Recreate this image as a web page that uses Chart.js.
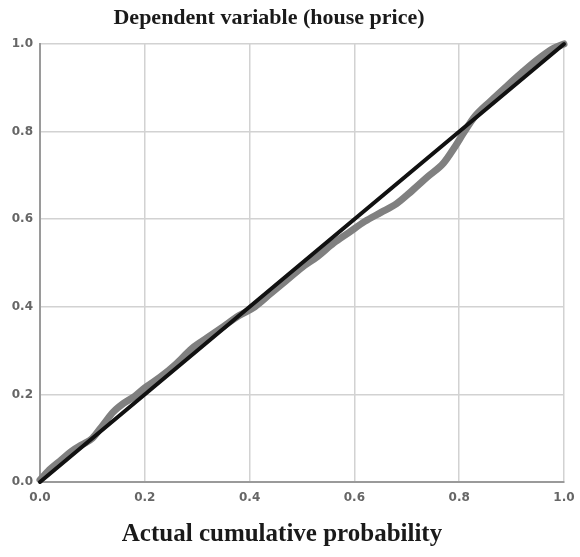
<!DOCTYPE html>
<html>
<head>
<meta charset="utf-8">
<script src="https://cdn.jsdelivr.net/npm/chart.js@4/dist/chart.umd.min.js"></script>
<style>
  html, body { margin: 0; padding: 0; background: #fff; }
  #wrap { width: 580px; height: 557px; position: relative; }
</style>
</head>
<body>
<div id="wrap"><canvas id="pp"></canvas></div>
<script>
// P-P plot of regression standardized residuals
const chartTitle = 'Dependent variable (house price)';
const xAxisTitle = 'Actual cumulative probability';
const tickLabels = ['0.0', '0.2', '0.4', '0.6', '0.8', '1.0'];

// Observed cumulative probability (x) vs expected cumulative probability (y)
const observedProb = [0, 0.02, 0.04, 0.06, 0.08, 0.10, 0.12, 0.14, 0.16, 0.18, 0.20, 0.23, 0.26, 0.29, 0.32, 0.35, 0.38, 0.41, 0.44, 0.47, 0.50, 0.53, 0.56, 0.59, 0.62, 0.65, 0.68, 0.71, 0.74, 0.77, 0.79, 0.81, 0.83, 0.86, 0.89, 0.92, 0.95, 0.98, 1.0];
const expectedProb = [0.005, 0.03, 0.05, 0.07, 0.085, 0.10, 0.13, 0.16, 0.18, 0.195, 0.215, 0.24, 0.27, 0.305, 0.33, 0.355, 0.38, 0.40, 0.43, 0.46, 0.49, 0.515, 0.545, 0.57, 0.595, 0.615, 0.635, 0.665, 0.697, 0.728, 0.762, 0.80, 0.835, 0.87, 0.903, 0.935, 0.965, 0.99, 1.0];

// Reference diagonal
const diagonalX = [0, 1];
const diagonalY = [0, 1];

const observedPts = observedProb.map((x, i) => ({ x, y: expectedProb[i] }));
const diagonalPts = diagonalX.map((x, i) => ({ x, y: diagonalY[i] }));

// Titles drawn in a serif bold face
const titlePlugin = {
  id: 'serifTitles',
  afterDraw(chart) {
    const ctx = chart.ctx;
    ctx.save();
    ctx.fillStyle = '#1a1a1a';
    ctx.textAlign = 'center';
    ctx.textBaseline = 'alphabetic';
    ctx.font = 'bold 22px "Liberation Serif", "DejaVu Serif", serif';
    ctx.fillText(chartTitle, 269, 24);
    ctx.font = 'bold 25px "Liberation Serif", "DejaVu Serif", serif';
    ctx.fillText(xAxisTitle, 282, 541);
    ctx.restore();
  }
};

const tickFont = { family: '"DejaVu Sans", Verdana, sans-serif', size: 12, weight: 'bold' };

new Chart(document.getElementById('pp'), {
  type: 'scatter',
  data: {
    datasets: [
      {
        label: 'Diagonal',
        data: diagonalPts,
        showLine: true,
        borderColor: '#111111',
        borderWidth: 4,
        borderCapStyle: 'round',
        pointRadius: 0,
        order: 0,
        clip: 10
      },
      {
        label: 'Observed',
        data: observedPts,
        showLine: true,
        borderColor: '#808080',
        borderWidth: 7,
        borderCapStyle: 'round',
        borderJoinStyle: 'round',
        cubicInterpolationMode: 'monotone',
        pointRadius: 0,
        order: 1,
        clip: 10
      }
    ]
  },
  options: {
    responsive: true,
    maintainAspectRatio: false,
    animation: false,
    layout: { padding: { left: 0, top: 44, right: 16, bottom: 0 } },
    plugins: {
      legend: { display: false },
      tooltip: { enabled: false },
      title: { display: false }
    },
    scales: {
      x: {
        type: 'linear',
        min: 0, max: 1,
        afterFit(scale) {
          scale.height = 75;
          scale.paddingLeft = 0;
          scale.paddingRight = 0;
        },
        afterBuildTicks(scale) {
          scale.ticks = tickLabels.map(t => ({ value: parseFloat(t) }));
        },
        ticks: {
          padding: 9,
          color: '#666',
          font: tickFont,
          maxRotation: 0,
          callback: (v, i) => tickLabels[i]
        },
        grid: { color: '#d2d2d2', lineWidth: 1.5, drawTicks: false },
        border: { color: '#9a9a9a', width: 2 }
      },
      y: {
        type: 'linear',
        min: 0, max: 1,
        afterFit(scale) {
          scale.width = 40;
          scale.paddingTop = 0;
          scale.paddingBottom = 0;
        },
        afterBuildTicks(scale) {
          scale.ticks = tickLabels.map(t => ({ value: parseFloat(t) }));
        },
        ticks: {
          padding: 7,
          color: '#666',
          font: tickFont,
          callback: (v, i) => tickLabels[i]
        },
        grid: { color: '#d2d2d2', lineWidth: 1.5, drawTicks: false },
        border: { color: '#9a9a9a', width: 2 }
      }
    }
  },
  plugins: [titlePlugin]
});
</script>
</body>
</html>
